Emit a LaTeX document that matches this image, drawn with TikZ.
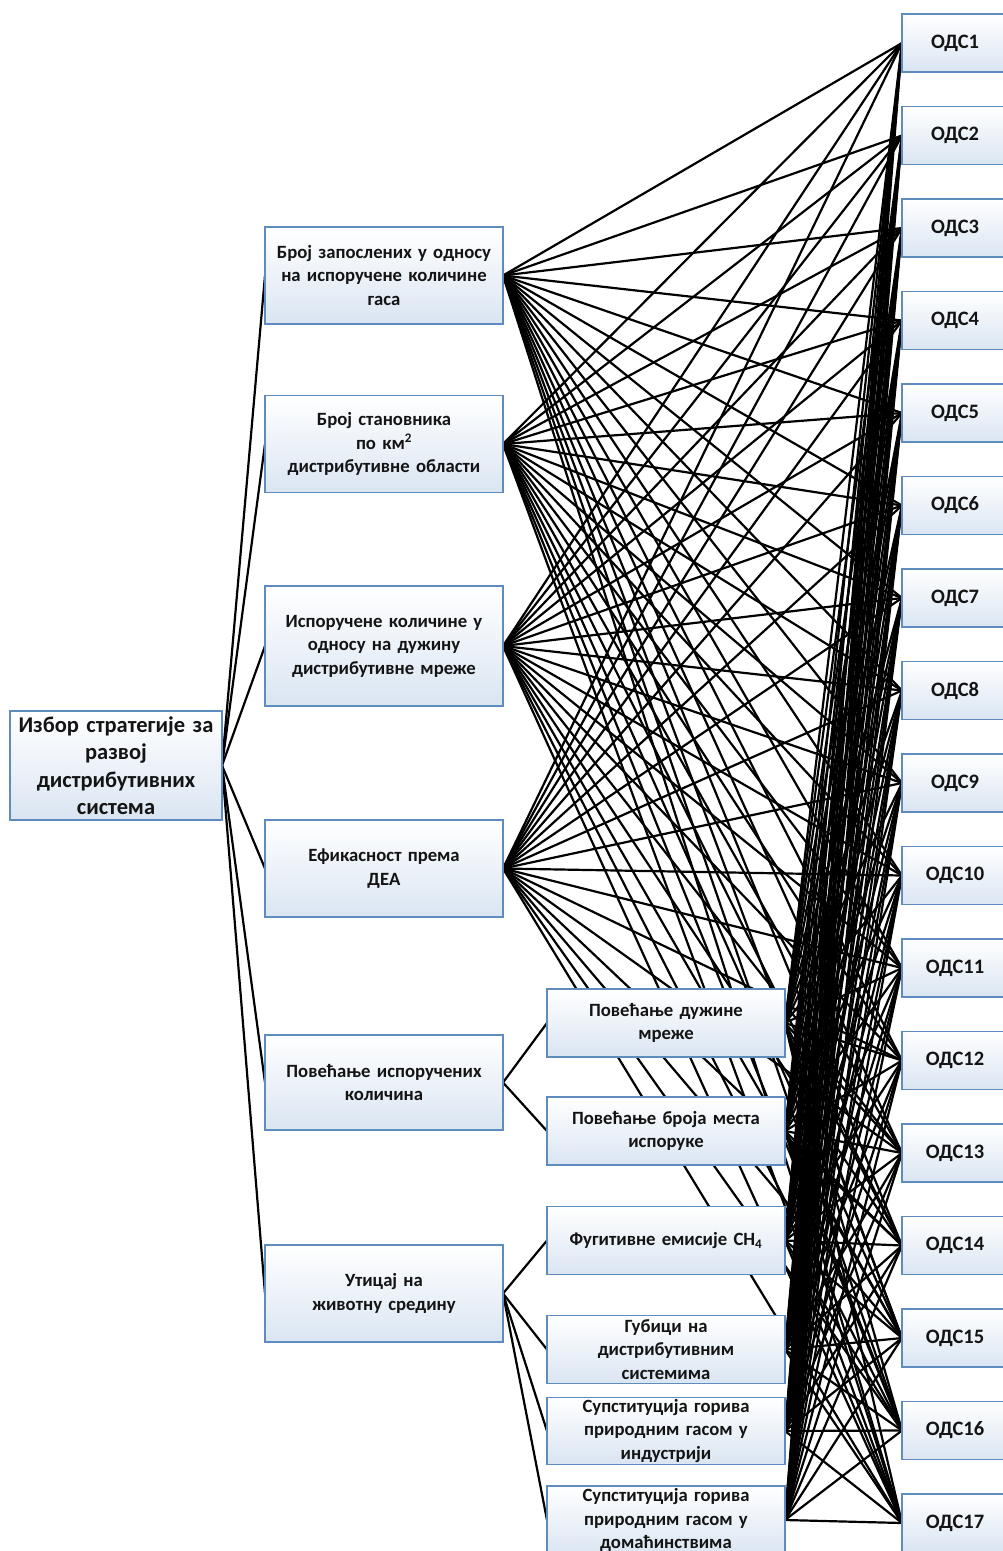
\documentclass[tikz,border=0pt]{standalone}
\usepackage{fontspec}
\setmainfont{Carlito}
\pgfdeclarelayer{bg}
\pgfsetlayers{bg,main}
\definecolor{bordercol}{RGB}{95,140,190}
\definecolor{fillcol}{RGB}{218,229,242}
\definecolor{txt}{RGB}{20,20,20}
\tikzset{
  box/.style={draw=bordercol, line width=1.6pt, top color=white, bottom color=fillcol,
    align=center, text=txt, font=\fontsize{18.7}{23.5}\selectfont\bfseries, inner sep=2pt, outer sep=0pt},
  crit/.style={box, minimum width=238pt, text width=234pt},
  sub/.style={box, minimum width=238pt, text width=234pt, minimum height=68pt},
  ods/.style={box, minimum width=106pt, minimum height=58pt, font=\fontsize{20.5}{24}\selectfont\bfseries},
  conn/.style={draw=black, line width=2.2pt},
}
\begin{document}
\begin{tikzpicture}[x=1pt,y=-1pt]
\useasboundingbox (0,0) rectangle (1003,1551);
% root
\node[box, minimum width=212pt, minimum height=109pt, text width=208pt,
  font=\fontsize{22.5}{27.5}\selectfont\bfseries] (root) at (116,765.5)
  {Избор стратегије за\\развој\\дистрибутивних\\система};
% criteria
\node[crit, minimum height=97pt] (c1) at (384,275.5) {Број запослених у односу\\на испоручене количине\\гаса};
\node[crit, minimum height=97pt] (c2) at (384,444) {Број становника\\по км\textsuperscript{2}\\дистрибутивне области};
\node[crit, minimum height=120pt] (c3) at (384,646) {Испоручене количине у\\односу на дужину\\дистрибутивне мреже};
\node[crit, minimum height=97pt] (c4) at (384,868.5) {Ефикасност према\\ДЕА};
\node[crit, minimum height=95pt] (c5) at (384,1082.5) {Повећање испоручених\\количина};
\node[crit, minimum height=97pt] (c6) at (384,1293.5) {Утицај на\\животну средину};
% sub-criteria
\node[sub] (s1) at (666,1023) {Повећање дужине\\мреже};
\node[sub] (s2) at (666,1131) {Повећање броја места\\испоруке};
\node[sub] (s3) at (666,1240.5) {Фугитивне емисије CH\textsubscript{4}};
\node[sub] (s4) at (666,1349.5) {Губици на\\дистрибутивним\\системима};
\node[sub, minimum height=67pt] (s5) at (666,1431) {Супституција горива\\природним гасом у\\индустрији};
\node[sub] (s6) at (666,1520) {Супституција горива\\природним гасом у\\домаћинствима};
% ODS
\foreach \i in {1,...,17}{
  \node[ods] (o\i) at (955,{43+92.5*(\i-1)}) {ОДС\i};
}
\begin{pgfonlayer}{bg}
\foreach \c in {c1,c2,c3,c4,c5,c6}{
  \draw[conn] (root.east) -- (\c.west);
}
\draw[conn] (c5.east) -- (s1.west);
\draw[conn] (c5.east) -- (s2.west);
\foreach \s in {s3,s4,s5,s6}{
  \draw[conn] (c6.east) -- (\s.west);
}
\foreach \c in {c1,c2,c3,c4}{
  \foreach \i in {1,...,17}{
    \draw[conn] (\c.east) -- (o\i.west);
  }
}
\foreach \s in {s1,s2,s3,s4,s5,s6}{
  \foreach \i in {1,...,17}{
    \draw[conn] (\s.east) -- (o\i.west);
  }
}
\end{pgfonlayer}
\end{tikzpicture}
\end{document}
